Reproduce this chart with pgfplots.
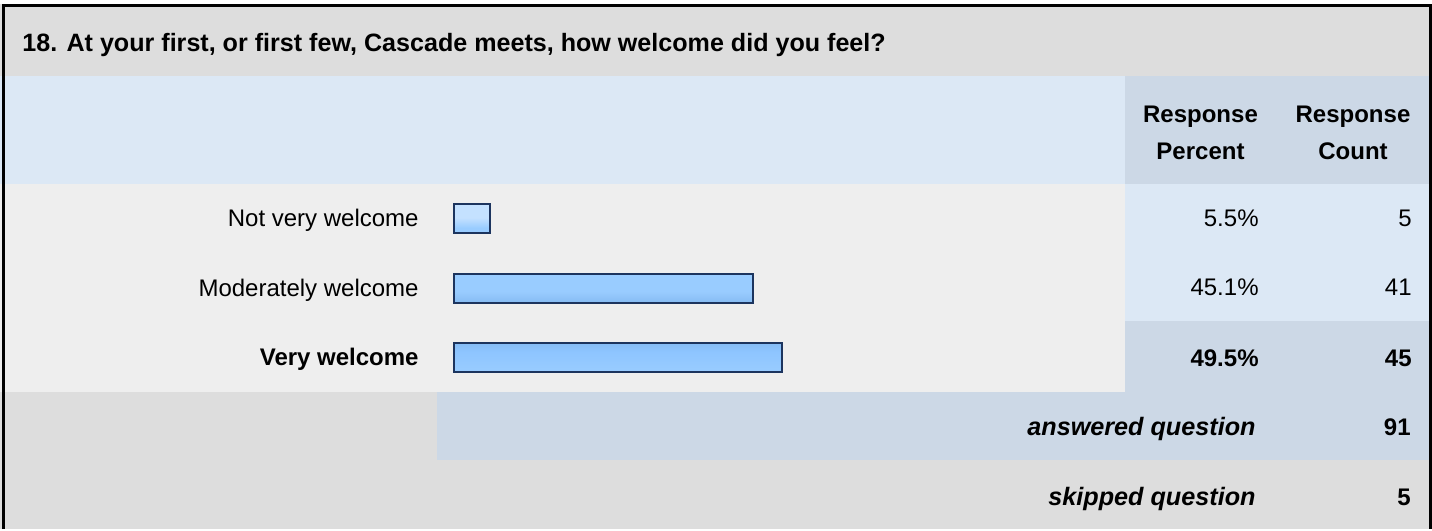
\documentclass[border=0pt]{standalone}
\usepackage{fontspec}
\setmainfont{Liberation Sans}
\usepackage{pgfplots}
\pgfplotsset{compat=1.18}
\definecolor{titlegray}{HTML}{DDDDDD}
\definecolor{hdrblue}{HTML}{DCE8F5}
\definecolor{darkblue}{HTML}{CCD8E6}
\definecolor{rowgray}{HTML}{EEEEEE}
\definecolor{barborder}{HTML}{1C345E}
\definecolor{bA}{HTML}{C4E1FF}
\definecolor{bB}{HTML}{99CCFF}
\definecolor{bC}{HTML}{7DB3EC}
\definecolor{bD}{HTML}{8EC5FF}
\pgfdeclareverticalshading{barshade}{100bp}{color(0bp)=(bB); color(25bp)=(bB); color(31bp)=(bD); color(36bp)=(bC); color(44bp)=(bC); color(49bp)=(bB); color(68bp)=(bB); color(71bp)=(bA); color(75bp)=(bA); color(100bp)=(bA)}
\begin{document}
\fontsize{12pt}{14pt}\selectfont
\begin{tikzpicture}[x=0.5pt,y=-0.5pt]
% backgrounds
\fill[white] (0,0) rectangle (1432,529);
\fill[titlegray] (0,4) rectangle (1432,76);
\fill[hdrblue] (0,76) rectangle (1125,184);
\fill[darkblue] (1125,76) rectangle (1432,184);
\fill[rowgray] (0,184) rectangle (1125,392);
\fill[hdrblue] (1125,184) rectangle (1432,321);
\fill[darkblue] (1125,321) rectangle (1432,392);
\fill[titlegray] (0,392) rectangle (437,460);
\fill[darkblue] (437,392) rectangle (1432,460);
\fill[titlegray] (0,460) rectangle (1432,529);
\draw[black, line width=1.5pt] (3.5,529) -- (3.5,5.5) -- (1430.5,5.5) -- (1430.5,529);
\coordinate (axpos) at (454,184.1);
% title
\node[anchor=base west, inner sep=0pt, font=\fontsize{12.55pt}{14pt}\selectfont\bfseries] at (22,51.7) {18. At your first, or first few, Cascade meets, how welcome did you feel?};
% header
\node[anchor=base, inner sep=0pt, font=\bfseries] at (1200.5,122.3) {Response};
\node[anchor=base, inner sep=0pt, font=\bfseries] at (1200.5,159) {Percent};
\node[anchor=base, inner sep=0pt, font=\bfseries] at (1353,122.3) {Response};
\node[anchor=base, inner sep=0pt, font=\bfseries] at (1353,159) {Count};
% values
\node[anchor=base east, inner sep=0pt] at (1259,226.7) {5.5\%};
\node[anchor=base east, inner sep=0pt] at (1412,226.7) {5};
\node[anchor=base east, inner sep=0pt] at (1259,295.5) {45.1\%};
\node[anchor=base east, inner sep=0pt] at (1412,295.5) {41};
\node[anchor=base east, inner sep=0pt, font=\bfseries] at (1259,366.5) {49.5\%};
\node[anchor=base east, inner sep=0pt, font=\bfseries] at (1412,366.5) {45};
\node[anchor=base east, inner sep=0pt, font=\fontsize{12.6pt}{14pt}\selectfont\bfseries\itshape] at (1256,435) {answered question};
\node[anchor=base east, inner sep=0pt, font=\bfseries] at (1411,435) {91};
\node[anchor=base east, inner sep=0pt, font=\fontsize{12.6pt}{14pt}\selectfont\bfseries\itshape] at (1256,505) {skipped question};
\node[anchor=base east, inner sep=0pt, font=\bfseries] at (1411,505) {5};
\begin{axis}[
  at={(axpos)}, anchor=north west,
  scale only axis, width=331.7pt, height=104.05pt,
  xmin=0, xmax=100, ymin=-0.5, ymax=2.5, y dir=reverse,
  axis line style={draw=none},
  xtick=\empty, ytick={0,1,2},
  yticklabels={Not very welcome, Moderately welcome, \textbf{Very welcome}},
  major tick length=0pt,
  ytick style={draw=none},
  yticklabel style={anchor=base east, inner sep=0pt, xshift=-17.5pt, yshift=-4pt},
  clip=false,
]
\addplot[xbar, bar width=14.5pt, draw=barborder, line width=1pt, shade, shading=barshade] coordinates {(5.5,0) (45.1,1) (49.5,2)};
\end{axis}
\end{tikzpicture}
\end{document}
